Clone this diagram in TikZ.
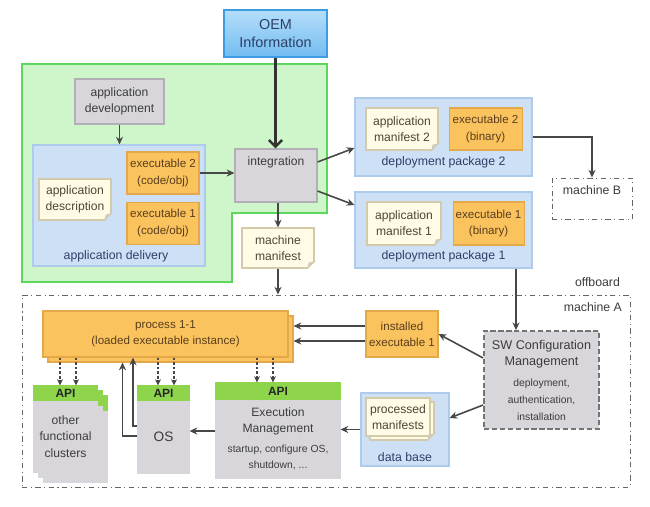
\documentclass[tikz,border=0pt]{standalone}
\usepackage{fontspec}
\setmainfont{Liberation Sans}
\usetikzlibrary{positioning,arrows.meta,shadows}

\definecolor{orfill}{HTML}{FAC35E}
\definecolor{ordraw}{HTML}{E3A84A}
\definecolor{grfill}{HTML}{D9D6DB}
\definecolor{grdraw}{HTML}{B3AFB6}
\definecolor{blfill}{HTML}{CEE0F6}
\definecolor{bldraw}{HTML}{AFCBEB}
\definecolor{ntfill}{HTML}{FFFBE6}
\definecolor{ntdraw}{HTML}{D2CAA8}
\definecolor{rgfill}{HTML}{CFF6CB}
\definecolor{rgdraw}{HTML}{5CD65C}
\definecolor{apifill}{HTML}{8ED54C}
\definecolor{oemtop}{HTML}{B5DEFA}
\definecolor{oembot}{HTML}{72BCF0}
\definecolor{oemdraw}{HTML}{3E9DE2}
\definecolor{txt}{HTML}{3C3C3C}
\definecolor{ortxt}{HTML}{5A3D1C}
\definecolor{nttxt}{HTML}{4E4535}
\definecolor{bltxt}{HTML}{2E3F68}
\definecolor{arr}{HTML}{474747}

\newcommand\boxfont{\fontsize{6.9}{9.2}\selectfont}
\newcommand\exefont{\fontsize{6.6}{9.2}\selectfont}
\newcommand\finefont{\fontsize{5.9}{8.2}\selectfont}

\tikzset{
	box/.style = {draw, align=center, inner sep=0pt, text=txt, font=\boxfont},
	exebox/.style = {box, fill=orfill, draw=ordraw, text=ortxt, font=\exefont},
	grbox/.style = {box, fill=grfill, draw=grdraw},
	pkgbox/.style = {box, fill=blfill, draw=bldraw},
	notebox/.style = {box, fill=ntfill, draw=ntdraw, text=nttxt},
	apibox/.style = {box, fill=apifill, draw=apifill, text=black!85, font=\fontsize{6.8}{8}\selectfont\bfseries},
	machbox/.style = {draw=black!60, dash dot, line width=0.5pt},
	lbl/.style = {inner sep=0pt, font=\fontsize{7}{9}\selectfont, text=bltxt},
	flow/.style = {draw=arr, line width=0.9pt, -{Stealth[length=4.4pt,width=4pt]}},
	apicall/.style = {flow, line width=0.7pt, dash pattern=on 1.6pt off 1pt, -{Stealth[length=3.6pt,width=3.4pt]}},
	oemflow/.style = {draw=black!80, line width=1.4pt, -{Straight Barb[length=3.8pt,width=7.5pt]}}
}
\tikzset{
	fold/.pic = {
	 \fill [#1] (-1.4,0.1) -- (0.1,0.1) -- (0.1,-1.4) -- cycle;
	 \filldraw [draw=ntdraw, fill=black!20, line width=0.4pt] (-1.4,0) -- (-1.1,-1.1) -- (0,-1.4) -- cycle;
	 }
}

\begin{document}
\begin{tikzpicture}[x=1mm, y=-1mm, line width=0.6pt]
\fill [white] (0,0) rectangle (130,101.4);
\useasboundingbox (0,0) rectangle (130,101.4);

% REGIONS
\filldraw [fill=rgfill, draw=rgdraw, line width=0.8pt] (4.4,12.8) -| (65.4,42.6) -| (46.4,56.4) -| (4.4,12.8) -- cycle;
\node (macha) [machbox, minimum width=121.6mm, minimum height=38.4mm] at (65.2,78.2) {};
\node (machalbl) [lbl, text=txt, anchor=east] at ([xshift=-1.6mm, yshift=-2.6mm]macha.north east) {machine A};
\node (offlbl) [lbl, text=txt, anchor=east] at ([xshift=-2mm, yshift=2.4mm]macha.north east) {offboard};

% NODES
% development
\node (oem) [box, top color=oemtop, bottom color=oembot, draw=oemdraw, text=bltxt, font=\fontsize{8.2}{10}\selectfont, minimum width=20.6mm, minimum height=9.4mm] at (55.1,6.7) {OEM\\Information};
\node (appdev) [grbox, minimum width=17.8mm, minimum height=9mm] at (23.9,20.3) {application\\development};
\node (appdel) [pkgbox, minimum width=34.4mm, minimum height=24.2mm] at (23.8,41.1) {};
\node (appdellbl) [lbl, above=0.8mm of appdel.south, xshift=-0.6mm] {application delivery};
\node (exe2c) [exebox, minimum width=14.4mm, minimum height=8.4mm] at (32.6,34.6) {executable 2\\(code/obj)};
\node (exe1c) [exebox, minimum width=14.4mm, minimum height=8.4mm, below=1.4mm of exe2c] {executable 1\\(code/obj)};
\node (appdesc) [notebox, minimum width=14.4mm, minimum height=8.2mm] at (15,39.9) {application\\description};
\pic at (appdesc.south east) {fold=blfill};
\node (integ) [grbox, minimum width=16.4mm, minimum height=10.6mm] at (55.2,35.1) {};
\node (integlbl) [lbl, text=txt, font=\boxfont, below=1.5mm of integ.north] {integration};
\node (mmanif) [notebox, minimum width=14.4mm, minimum height=8mm] at (55.6,49.6) {machine\\manifest};
\pic at (mmanif.south east) {fold=white};

% deployment packages
\node (dp2) [pkgbox, minimum width=35.4mm, minimum height=15.6mm] at (88.7,27.4) {};
\node (am2) [notebox, minimum width=14.4mm, minimum height=8.4mm] at (80.4,25.8) {application\\manifest 2};
\pic at (am2.south east) {fold=blfill};
\node (exb2) [exebox, minimum width=14.6mm, minimum height=8.4mm, right=2mm of am2] {executable 2\\(binary)};
\node (dp2lbl) [lbl, above=1.6mm of dp2.south] {deployment package 2};
\node (dp1) [pkgbox, minimum width=35.4mm, minimum height=15.2mm] at (88.7,46) {};
\node (am1) [notebox, minimum width=14.8mm, minimum height=8.6mm] at (80.8,44.7) {application\\manifest 1};
\pic at (am1.south east) {fold=blfill};
\node (exb1) [exebox, minimum width=14.2mm, minimum height=8.6mm, right=2.2mm of am1] {executable 1\\(binary)};
\node (dp1lbl) [lbl, above=1.2mm of dp1.south] {deployment package 1};
\node (machb) [machbox, minimum width=16mm, minimum height=8.2mm] at (118.4,39.7) {};
\node (machblbl) [lbl, text=txt, below=1.5mm of machb.north] {machine B};

% machine A
\node (proc) [exebox, copy shadow={shadow xshift=1mm, shadow yshift=-1mm}, minimum width=49mm, minimum height=9.2mm] at (33.1,66.8) {process 1-1\\(loaded executable instance)};
\node (instx) [exebox, minimum width=14.4mm, minimum height=9.2mm] at (80.4,66.8) {installed\\executable 1};
\node (swcm) [grbox, draw=black!55, dashed, dash pattern=on 3pt off 1.5pt, line width=1pt, font=\fontsize{7.2}{9.6}\selectfont, minimum width=23mm, minimum height=19.6mm] at (108.3,76) {SW Configuration\\Management\\[2pt]\finefont deployment,\\\finefont authentication,\\\finefont installation};
\node (db) [pkgbox, minimum width=17.6mm, minimum height=14.6mm] at (81,85.9) {};
\node (procman) [notebox, copy shadow={shadow xshift=0.8mm, shadow yshift=-0.8mm}, minimum width=12.8mm, minimum height=7.6mm] at (79.6,83.4) {processed\\manifests};
\pic at ([xshift=0.8mm, yshift=-0.8mm]procman.south east) {fold=blfill};
\node (dblbl) [lbl, above=0.8mm of db.south] {data base};
\node (execapi) [apibox, minimum width=24.8mm, minimum height=3.2mm] at (55.6,78.2) {API};
\node (exec) [grbox, draw=grfill, minimum width=24.8mm, minimum height=15.6mm, below=0pt of execapi] {Execution\\Management\\[2pt]\finefont startup, configure OS,\\\finefont shutdown, ...};
\node (osapi) [apibox, minimum width=10.2mm, minimum height=2.8mm] at (32.7,78.6) {API};
\node (os) [grbox, draw=grfill, font=\fontsize{7.8}{9.4}\selectfont, minimum width=10.2mm, minimum height=14.4mm, below=0pt of osapi] {OS};
\node (cluapi) [apibox, double copy shadow={shadow xshift=1mm, shadow yshift=-1mm}, minimum width=12.6mm, minimum height=2.8mm] at (13.1,78.6) {API};
\node (clu) [grbox, draw=grfill, double copy shadow={shadow xshift=1mm, shadow yshift=-1mm}, minimum width=12.6mm, minimum height=14.2mm, below=0pt of cluapi] {other\\functional\\clusters};

% helper points
\coordinate (procedge) at ([xshift=1mm]proc.east);
\coordinate (inst-a) at ([yshift=1.6mm]instx.west);
\coordinate (inst-b) at ([yshift=-1.4mm]instx.west);
\coordinate (exec-a) at ([yshift=1.6mm]exec.west);
\coordinate (os-a) at ([yshift=0.2mm]os.west);
\coordinate (os-b) at ([yshift=2.2mm]os.west);
\path (proc.south) ++(-8.6,1) coordinate (proc-in1);
\path (proc.south) ++(-6.5,0) coordinate (proc-in2);
\coordinate (dp1-out) at ([xshift=14.5mm]dp1.south);

%CONNECTIONS
\draw [oemflow] (oem.south) -- (oem.south |- integ.north);
\draw [flow] (appdev.south) -- (appdev.south |- appdel.north);
\draw [flow] (exe2c.east) -- (exe2c.east -| integ.west);
\draw [flow] (mmanif.north |- integ.south) -- (mmanif.north);
\draw [flow] (mmanif.south) -- (mmanif.south |- macha.north);
\draw [flow] ([yshift=2.7mm]integ.east) -- ([yshift=-2.2mm]dp2.west);
\draw [flow] ([yshift=-3.1mm]integ.east) -- ([yshift=5mm]dp1.west);
\draw [flow] (dp2.east) -| (machb.north);
\draw [flow] (dp1-out) -- (dp1-out |- swcm.north);
\draw [flow] (inst-a) -- (inst-a -| procedge);
\draw [flow] (inst-b) -- (inst-b -| procedge);
\draw [flow] ([yshift=4.4mm]swcm.west) -- (instx.east);
\draw [flow] ([yshift=-5mm]swcm.west) -- ([yshift=2.3mm]db.east);
\draw [flow] (db.west) -- (db.west -| exec.east);
\draw [flow] (exec-a) -- (exec-a -| os.east);
\draw [flow] (os-a) -| (proc-in1);
\draw [flow] (os-b) -| (proc-in2);
\foreach \n/\da/\db in {cluapi/-1.1/2.1, osapi/-1.1/2.1, execapi/-4.2/-1}{
	\coordinate (\n-1) at ([xshift=\da mm]\n.north);
	\coordinate (\n-2) at ([xshift=\db mm]\n.north);
	\draw [apicall] (\n-1 |- proc.south) -- (\n-1);
	\draw [apicall] (\n-2 |- proc.south) -- (\n-2);
}

\end{tikzpicture}
\end{document}
